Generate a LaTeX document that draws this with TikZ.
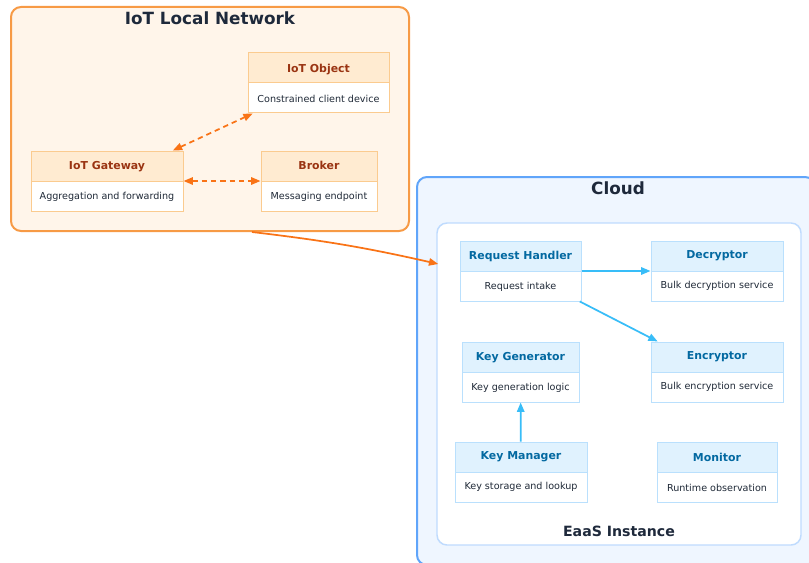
\documentclass[tikz,border=0pt]{standalone}
\usepackage{fontspec}
\setmainfont{DejaVu Sans}
\usetikzlibrary{arrows.meta}

\definecolor{iotfill}{HTML}{FFF5EA}
\definecolor{iotborder}{HTML}{F79A45}
\definecolor{iotedge}{HTML}{FBCB8F}
\definecolor{iothead}{HTML}{FFEBD1}
\definecolor{iottitle}{HTML}{9A3412}
\definecolor{iotarrow}{HTML}{F97316}
\definecolor{cloudfill}{HTML}{EFF6FF}
\definecolor{cloudborder}{HTML}{60A5FA}
\definecolor{eaasborder}{HTML}{BFDBFE}
\definecolor{cloudedge}{HTML}{BAE0FD}
\definecolor{cloudhead}{HTML}{E0F2FE}
\definecolor{cloudtitle}{HTML}{0369A1}
\definecolor{cloudarrow}{HTML}{38BDF8}
\definecolor{titletext}{HTML}{1E293B}
\definecolor{bodytext}{HTML}{1F2937}

% bold heading line of a component box
\newcommand\comptitle[2]{{\fontsize{8.2}{22.5}\selectfont\bfseries\color{#1}#2}}

\begin{document}
\begin{tikzpicture}[x=0.75pt,y=-0.75pt,
  zone/.style={rounded corners=7.5pt,line width=1.5pt},
  zonetitle/.style={font=\fontsize{12.6}{14}\selectfont\bfseries,text=titletext},
  comp/.style 2 args={draw=#1,line width=0.75pt,fill=white,minimum height=45pt,
    inner sep=0pt,align=center,text=bodytext,font=\fontsize{7.2}{22.5}\selectfont,
    path picture={
      \fill[#2] (path picture bounding box.north west) rectangle (path picture bounding box.east);
      \draw[#1,line width=0.75pt] (path picture bounding box.west) -- (path picture bounding box.east);}},
  iotcomp/.style={comp={iotedge}{iothead},minimum width=#1},
  cloudcomp/.style={comp={cloudedge}{cloudhead},minimum width=#1},
  iotlink/.style={{Triangle[length=7pt,width=5.5pt]}-{Triangle[length=7pt,width=5.5pt]},
    draw=iotarrow,line width=1.3pt,dash pattern=on 4pt off 3pt},
  cloudlink/.style={-{Triangle[length=7pt,width=5.5pt]},draw=cloudarrow,line width=1.3pt}]
\useasboundingbox (0,0) rectangle (809,563);
\begin{scope}
\clip (0,0) rectangle (809,563);
% ================= local network =================
\node[zone,draw=iotborder,fill=iotfill,minimum width=298.5pt,minimum height=168pt] (iotnet) at (210,119) {};
\node[zonetitle] (iottitle) at (210,18) {IoT Local Network};
\node[iotcomp=105.75pt] (obj) at (318.5,83) {\comptitle{iottitle}{IoT Object}\\Constrained client device};
\node[iotcomp=114pt] (gw) at (107,181) {\comptitle{iottitle}{IoT Gateway}\\Aggregation and forwarding};
\node[iotcomp=87pt] (brk) at (319,181) {\comptitle{iottitle}{Broker}\\Messaging endpoint};
\draw[iotlink] (gw) -- (obj);
\draw[iotlink] (gw) -- (brk);
% ================= cloud =================
\node[zone,draw=cloudborder,fill=cloudfill,minimum width=298.5pt,minimum height=291pt] (cloud) at (616,371) {};
\node[zonetitle] (cloudtitle) at (618,188) {Cloud};
\node[zone,line width=1.1pt,draw=eaasborder,fill=white,minimum width=273pt,minimum height=241.5pt] (eaas) at (619,384) {};
\node[zonetitle,font=\fontsize{10.6}{12}\selectfont\bfseries] (eaastitle) at (619,531) {EaaS Instance};
% components of the instance
\node[cloudcomp=90.75pt] (rh) at (520.5,271) {\comptitle{cloudtitle}{Request Handler}\\Request intake};
\node[cloudcomp=99pt] (dec) at (717,271) {\comptitle{cloudtitle}{Decryptor}\\Bulk decryption service};
\node[cloudcomp=87.75pt] (kg) at (520.5,372) {\comptitle{cloudtitle}{Key Generator}\\Key generation logic};
\node[cloudcomp=99pt] (enc) at (717,372) {\comptitle{cloudtitle}{Encryptor}\\Bulk encryption service};
\node[cloudcomp=99pt] (km) at (521,472) {\comptitle{cloudtitle}{Key Manager}\\Key storage and lookup};
\node[cloudcomp=90pt] (mon) at (717,472) {\comptitle{cloudtitle}{Monitor}\\Runtime observation};
\draw[cloudlink] (rh) -- (dec);
\draw[cloudlink] (rh) -- (enc);
\draw[cloudlink] (km) -- (kg);
% ================= network to instance =================
\draw[-{Triangle[length=7pt,width=5.5pt]},draw=iotarrow,line width=1.3pt]
  ([xshift=31.5pt]iotnet.south) to[bend left=3] ([xshift=1.5pt,yshift=90pt]eaas.west);
\end{scope}
\end{tikzpicture}
\end{document}
